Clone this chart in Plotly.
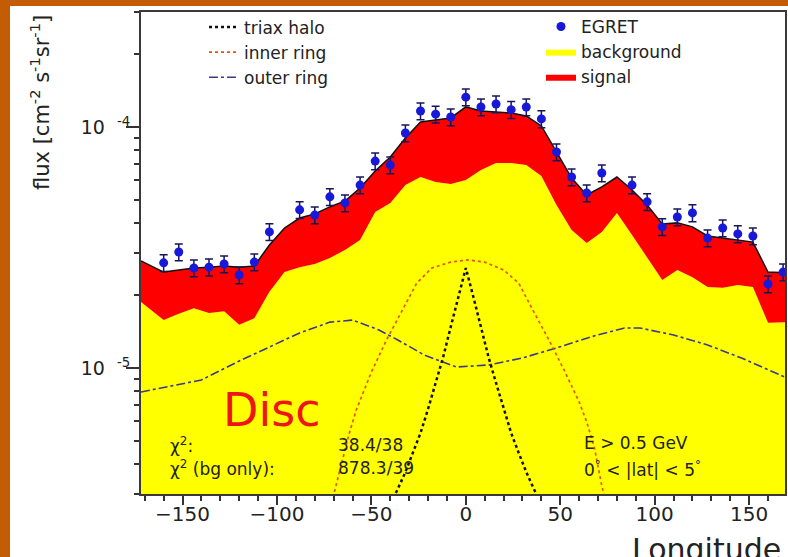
import plotly.graph_objects as go

# ---------------- data (flux in units of 1e-5 cm^-2 s^-1 sr^-1) ----------------
egret_lon = [-160, -152, -144, -136, -128, -120, -112, -104,
             -88, -80, -72, -64, -56, -48, -40, -32, -24, -16, -8, 0, 8, 16, 24, 32, 40, 48, 56, 64, 72,
             88, 96, 104, 112, 120, 128, 136, 144, 152, 160, 168]
egret_flux = [2.73, 3.03, 2.60, 2.62, 2.70, 2.43, 2.75, 3.67,
              4.53, 4.31, 5.13, 4.84, 5.74, 7.22, 6.95, 9.44, 11.65, 11.3, 11.0, 13.3, 12.1, 12.45, 11.8, 12.1,
              10.8, 7.87, 6.20, 5.32, 6.44,
              5.74, 4.89, 3.85, 4.23, 4.40, 3.46, 3.81, 3.60, 3.53, 2.23, 2.50]
egret_err_pct = 8

model_lon = [-172, -160, -152, -144, -136, -128, -120, -112,
             -104, -96, -88, -80, -72, -64, -56, -48, -40, -32, -24, -16, -8,
             0, 8, 16, 24, 32, 40, 48, 56, 64, 72, 80, 88, 96, 104, 112, 120, 128, 136, 144, 152, 160, 168,
             170]
total_flux = [2.78, 2.50, 2.55, 2.60, 2.62, 2.65, 2.62, 2.65,
              3.24, 3.81, 4.19, 4.36, 4.66, 4.93, 5.58, 6.57, 7.51, 9.00, 10.49, 10.69, 10.90,
              12.11, 11.65, 11.54, 11.43, 11.11, 10.10, 7.88, 6.14, 5.22, 5.64, 6.20, 5.48, 4.75, 3.96, 4.00,
              3.85, 3.53, 3.46, 3.40, 3.33, 2.50, 2.48,
              2.48]
background_flux = [1.88, 1.58, 1.68, 1.77, 1.69, 1.72, 1.51, 1.61,
                   2.07, 2.50, 2.62, 2.70, 2.86, 3.09, 3.40, 4.44, 4.84, 5.75, 6.20, 5.91, 5.80,
                   6.03, 6.63, 7.09, 7.09, 6.95, 6.26, 4.75, 3.74, 3.30, 3.67, 4.40, 3.56, 2.86, 2.32, 2.55,
                   2.38, 2.17, 2.15, 2.21, 2.17, 1.54, 1.55,
                   1.55]

halo_lon = [-44, -40, -36, -32, -28, -24, -20, -16, -12, -8, -4, 0, 4, 8, 12, 16, 20, 24, 28, 32, 36, 40, 44]
halo_flux = [0.234, 0.270, 0.315, 0.370, 0.444, 0.537, 0.676, 0.867, 1.11, 1.48, 1.97, 2.60,
             1.97, 1.48, 1.11, 0.867, 0.676, 0.537, 0.444, 0.370, 0.315, 0.270, 0.234]

inner_lon = [-73, -70, -66, -62, -58, -50, -42, -34, -26, -18, -8, 1, 10, 20, 28, 36, 44, 52, 60, 64, 68, 72, 76]
inner_flux = [0.2455, 0.297, 0.396, 0.527, 0.670, 0.962, 1.307, 1.708, 2.25, 2.60, 2.75, 2.81,
              2.75, 2.55, 2.25, 1.708, 1.307, 0.981, 0.723, 0.597, 0.470, 0.324, 0.2455]

outer_lon = [-172, -140, -120, -104, -88, -72, -60, -46, -36, -22, -5, 12, 30, 48, 66, 84, 92, 110, 128, 146, 170]
outer_flux = [0.795, 0.892, 1.069, 1.222, 1.397, 1.55, 1.58, 1.438, 1.307, 1.132, 1.009, 1.029, 1.100,
              1.211, 1.345, 1.466, 1.466, 1.371, 1.246, 1.100, 0.909]

UNIT = 1e-5
sc = lambda v: [x * UNIT for x in v]

FONT = "DejaVu Sans"
TXT = "#222222"

fig = go.Figure()

fig.add_trace(go.Scatter(x=model_lon, y=sc(background_flux), mode="lines", line=dict(width=0, color="#FFFF00"),
                         fill="tozeroy", fillcolor="#FFFF00", name="background", legend="legend2", legendrank=2))
fig.add_trace(go.Scatter(x=model_lon, y=sc(total_flux), mode="lines", line=dict(width=0, color="#FF0000"),
                         fill="tonexty", fillcolor="#FF0000", name="signal", legend="legend2", legendrank=3))
fig.add_trace(go.Scatter(x=model_lon, y=sc(total_flux), mode="lines", line=dict(width=1.5, color="#111111"),
                         showlegend=False, hoverinfo="skip"))
fig.add_trace(go.Scatter(x=outer_lon, y=sc(outer_flux), mode="lines", line=dict(width=1.6, color="#3A3A88", dash="dashdot"),
                         name="outer ring", legend="legend", legendrank=3))
fig.add_trace(go.Scatter(x=inner_lon, y=sc(inner_flux), mode="lines", line=dict(width=1.7, color="#E0580C", dash="dot"),
                         name="inner ring", legend="legend", legendrank=2))
fig.add_trace(go.Scatter(x=halo_lon, y=sc(halo_flux), mode="lines", line=dict(width=2.5, color="#111111", dash="dot"),
                         name="triax halo", legend="legend", legendrank=1))
fig.add_trace(go.Scatter(x=egret_lon, y=sc(egret_flux), mode="markers",
                         marker=dict(size=9, color="#1818D8"),
                         error_y=dict(type="percent", value=egret_err_pct, color="#15155A", thickness=1.5, width=4),
                         name="EGRET", legend="legend2", legendrank=1))

# geometry helpers (plot area: left 141, right 785, top 12, bottom 494 px)
L, R, T, B, W, H = 141, 785, 12, 494, 788, 557
px = lambda x: (x - L) / (R - L)
py = lambda y: (B - y) / (B - T)

minor_vals = [m * 10 ** e for e in (-6, -5, -4) for m in range(2, 10)]

fig.update_layout(
    width=W, height=H,
    margin=dict(l=L, r=W - R, t=T, b=H - B, autoexpand=False),
    paper_bgcolor="#C45C06",
    plot_bgcolor="white",
    font=dict(family=FONT, color=TXT, size=19),
    xaxis=dict(range=[-172, 169], tickmode="linear", tick0=0, dtick=50, automargin=False,
               ticks="outside", ticklen=9, tickwidth=1.5, tickcolor="#333", ticklabelstandoff=-8,
               minor=dict(dtick=10, ticks="outside", ticklen=5, tickwidth=1.5, tickcolor="#333"),
               showline=True, linecolor="#3a3a3a", linewidth=2, mirror=True,
               showgrid=False, zeroline=False, tickfont=dict(size=20, family=FONT, color=TXT)),
    yaxis=dict(type="log", range=[-5.5229, -3.5229], automargin=False,
               tickvals=[1e-5, 1e-4],
               ticktext=["10\u00a0\u00a0<sup>-5</sup>", "10\u00a0\u00a0<sup>-4</sup>"],
               ticks="outside", ticklen=13, tickwidth=1.5, tickcolor="#333", ticklabelstandoff=-8,
               minor=dict(tickmode="array", tickvals=minor_vals, ticks="outside", ticklen=5,
                          tickwidth=1.5, tickcolor="#333", showgrid=False),
               showline=True, linecolor="#3a3a3a", linewidth=2, mirror=True,
               showgrid=False, zeroline=False, tickfont=dict(size=19, family=FONT, color=TXT)),
    legend=dict(x=px(204), y=py(9.5), xanchor="left", yanchor="top", bgcolor="rgba(0,0,0,0)",
                font=dict(size=17, family=FONT, color=TXT), tracegroupgap=0, traceorder="normal"),
    legend2=dict(x=px(541), y=py(9), xanchor="left", yanchor="top", bgcolor="rgba(0,0,0,0)",
                 font=dict(size=17, family=FONT, color=TXT), tracegroupgap=0, traceorder="normal"),
    shapes=[dict(type="rect", xref="paper", yref="paper", layer="below",
                 x0=px(10), x1=px(W + 5), y0=py(H + 5), y1=py(6),
                 fillcolor="white", line=dict(width=0))],
    showlegend=True,
)

annos = [
    dict(text="Disc", x=px(271), y=py(410), font=dict(size=46, color="#EE1515", family=FONT)),
    dict(text="χ<sup>2</sup>:", x=px(168), y=py(445), xanchor="left", font=dict(size=17)),
    dict(text="38.4/38", x=px(336), y=py(445), xanchor="left", font=dict(size=17)),
    dict(text="χ<sup>2</sup> (bg only):", x=px(168), y=py(468), xanchor="left", font=dict(size=17)),
    dict(text="878.3/39", x=px(336), y=py(468), xanchor="left", font=dict(size=17)),
    dict(text="E &gt; 0.5 GeV", x=px(582), y=py(443), xanchor="left", font=dict(size=17)),
    dict(text="0<sup>°</sup> &lt; |lat| &lt; 5<sup>°</sup>", x=px(582), y=py(469), xanchor="left", font=dict(size=17)),
    dict(text="flux [cm<sup>-2</sup> s<sup>-1</sup>sr<sup>-1</sup>]", x=px(40), y=py(103), textangle=-90,
         font=dict(size=21)),
    dict(text="Longitude", x=px(630), y=py(530), xanchor="left", yanchor="top", font=dict(size=30)),
]
for a in annos:
    a.setdefault("xref", "paper")
    a.setdefault("yref", "paper")
    a.setdefault("xanchor", "center")
    a.setdefault("yanchor", "middle")
    a.setdefault("showarrow", False)
    f = a.get("font", {})
    f.setdefault("family", FONT)
    f.setdefault("color", TXT)
    a["font"] = f
    fig.add_annotation(**a)

fig.write_html("out.html", config={"displayModeBar": False},
               post_script="document.body.style.margin='0px';")
